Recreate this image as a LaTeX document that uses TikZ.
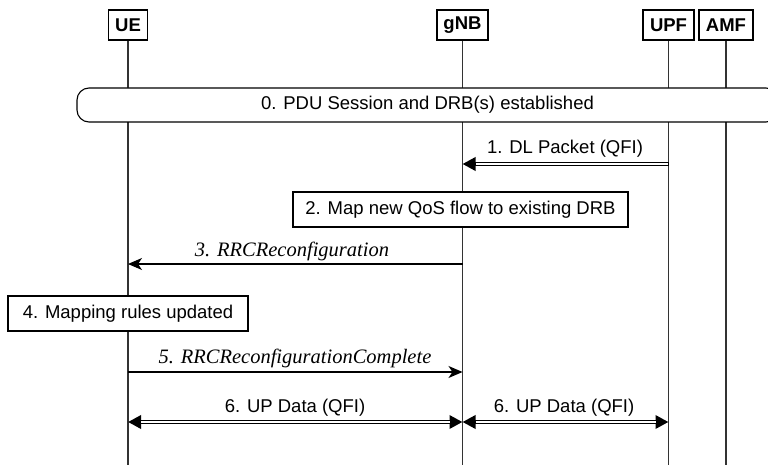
\documentclass[tikz,border=0pt]{standalone}
\usepackage{fontspec}
\setmainfont{Liberation Sans}
\newfontfamily\lserif{Liberation Serif}
\usetikzlibrary{arrows.meta}
\tikzset{dtri/.tip={Triangle[length=13pt,width=13pt]}}
\begin{document}
\begin{tikzpicture}[x=1pt,y=-1pt,
  every node/.style={font=\fontsize{18.5}{22}\selectfont},
  head/.style={draw=black, line width=1.1pt, font=\fontsize{18.5}{22}\selectfont\bfseries, inner sep=0pt, minimum height=30pt, fill=white},
  life/.style={draw=black!80, line width=1.1pt},
  actbox/.style={draw=black, line width=1.1pt, fill=white, minimum height=35pt, inner sep=0pt},
  msg/.style={draw=black, line width=1.1pt, -{Stealth[length=14pt,width=12pt,inset=4pt]}},
  dblout/.style={draw=black, line width=3.4pt},
  dblin/.style={draw=white, line width=1.2pt},
  lbl/.style={anchor=base, inner sep=0pt},
  itl/.style={anchor=base, inner sep=0pt, font=\fontsize{20.5}{24}\selectfont\lserif\itshape},
]
\useasboundingbox (0,0) rectangle (768,465);
\clip (0,0) rectangle (768,465);

% participants
\node[head, minimum width=39pt] (UE) at (128,25) {UE};
\node[head, minimum width=51pt] (gNB) at (462.5,25) {gNB};
\node[head, minimum width=51pt] (UPF) at (668.5,25) {UPF};
\node[head, minimum width=54pt] (AMF) at (726,25) {AMF};

\coordinate (bot) at (0,466);
\foreach \p in {UE,gNB,UPF,AMF}
  \draw[life] (\p.south) -- (\p.south |- bot);

% step 0
\node[draw=black, line width=1.1pt, rounded corners=12pt, fill=white,
      minimum width=701pt, minimum height=34pt, inner sep=0pt] (s0) at (427.5,105)
      {0. PDU Session and DRB(s) established};

% step 1
\coordinate (y1) at (0,164);
\coordinate (p1) at (UPF.south |- y1);
\coordinate (g1) at (gNB.south |- y1);
\draw[dblout, -{dtri}] (p1) -- (g1);
\draw[dblin, shorten >=13pt, shorten <=0.6pt] (p1) -- (g1);
\node[lbl] (l1) at (565,154) {1. DL Packet (QFI)};

% step 2
\node[actbox, minimum width=335pt] (s2) at (460.5,209.5) {2. Map new QoS flow to existing DRB};

% step 3
\coordinate (y3) at (0,264);
\coordinate (g3) at (gNB.south |- y3);
\coordinate (u3) at (UE.south |- y3);
\draw[msg] (g3) -- (u3);
\node[itl] (l3) at (292,256.5) {3. RRCReconfiguration};

% step 4
\node[actbox, minimum width=240pt] (s4) at (128,313.5) {4. Mapping rules updated};

% step 5
\coordinate (y5) at (0,372);
\coordinate (u5) at (UE.south |- y5);
\coordinate (g5) at (gNB.south |- y5);
\draw[msg] (u5) -- (g5);
\node[itl] (l5) at (295,363) {5. RRCReconfigurationComplete};

% step 6
\coordinate (y6) at (0,422);
\coordinate (u6) at (UE.south |- y6);
\coordinate (g6) at (gNB.south |- y6);
\coordinate (p6) at (UPF.south |- y6);
\draw[dblout, {dtri}-{dtri}] (u6) -- (g6);
\draw[dblin, shorten >=13pt, shorten <=13pt] (u6) -- (g6);
\node[lbl] (l6a) at (295,412) {6. UP Data (QFI)};
\draw[dblout, {dtri}-{dtri}] (g6) -- (p6);
\draw[dblin, shorten >=13pt, shorten <=13pt] (g6) -- (p6);
\node[lbl] (l6b) at (564,412) {6. UP Data (QFI)};
\end{tikzpicture}
\end{document}
